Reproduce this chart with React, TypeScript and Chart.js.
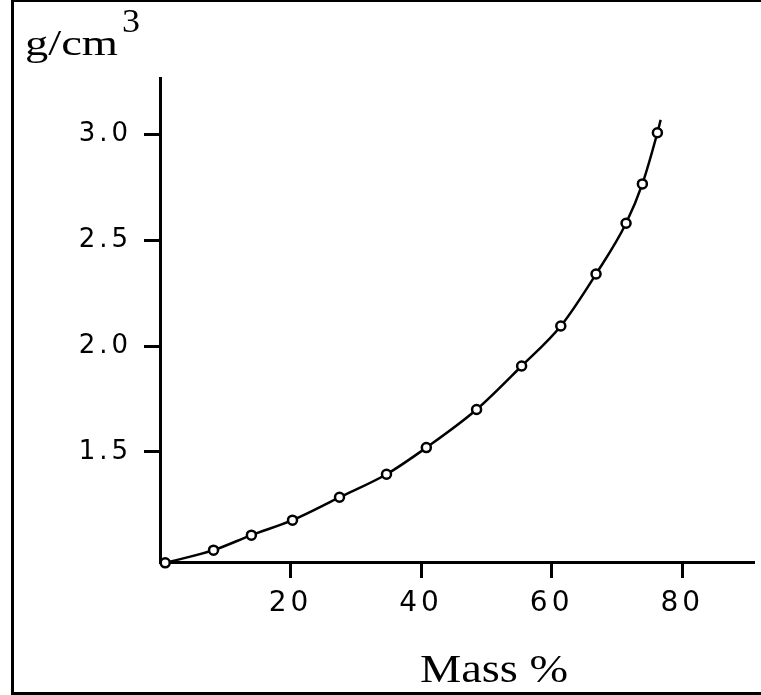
import React, { useEffect, useRef } from "react";
import { Chart, registerables } from "chart.js";

Chart.register(...registerables);

// ---- data ----
const massPercent = [0.8, 8.2, 14.0, 20.3, 27.5, 34.7, 40.8, 48.5, 55.4, 61.4, 66.8, 71.4, 73.9, 76.2];
const density = [0.975, 1.035, 1.106, 1.177, 1.285, 1.394, 1.52, 1.7, 1.906, 2.095, 2.341, 2.581, 2.767, 3.009];
const curveEndMass = 76.7;
const curveEndDensity = 3.07;
const xTicks = [20, 40, 60, 80];
const yTicks = [1.5, 2.0, 2.5, 3.0];
const xTitle = "Mass %";
const yUnit = "g/cm";
const yUnitExp = "3";

function drawStretched(ctx: CanvasRenderingContext2D, text: string, x: number, baseline: number, font: string, targetWidth: number) {
  ctx.save();
  ctx.font = font;
  ctx.textAlign = "left";
  ctx.textBaseline = "alphabetic";
  const w = ctx.measureText(text).width;
  const sx = targetWidth / w;
  ctx.translate(x, baseline);
  ctx.scale(sx, 1);
  ctx.fillStyle = "#000";
  ctx.fillText(text, 0, 0);
  ctx.restore();
}

const decorPlugin = {
  id: "decor",
  beforeDraw(chart: any) {
    const ctx = chart.ctx as CanvasRenderingContext2D;
    ctx.save();
    ctx.fillStyle = "#fff";
    ctx.fillRect(0, 0, chart.width, chart.height);
    ctx.restore();
    (ctx as any).letterSpacing = "4px";
  },
  beforeDatasetsDraw(chart: any) {
    (chart.ctx as any).letterSpacing = "0px";
  },
  afterDraw(chart: any) {
    const ctx = chart.ctx as CanvasRenderingContext2D;
    (ctx as any).letterSpacing = "0px";
    ctx.save();
    ctx.strokeStyle = "#000";
    ctx.lineWidth = 3;
    ctx.beginPath();
    ctx.moveTo(12.5, 0);
    ctx.lineTo(12.5, 695);
    ctx.stroke();
    ctx.beginPath();
    ctx.moveTo(11, 693.5);
    ctx.lineTo(761, 693.5);
    ctx.stroke();
    ctx.lineWidth = 2;
    ctx.beginPath();
    ctx.moveTo(11, 1);
    ctx.lineTo(761, 1);
    ctx.stroke();
    ctx.restore();

    drawStretched(ctx, yUnit, 25, 55, '35px "Liberation Serif"', 93);
    drawStretched(ctx, yUnitExp, 122, 32, '33px "Liberation Serif"', 18);
    drawStretched(ctx, xTitle, 420, 682, '39px "Liberation Serif"', 148);
  },
};

export default function App() {
  const canvasRef = useRef<HTMLCanvasElement | null>(null);

  useEffect(() => {
    const canvas = canvasRef.current;
    if (!canvas) return;

    const pointData = massPercent.map((x, i) => ({ x, y: density[i] }));
    const curveData = pointData.concat([{ x: curveEndMass, y: curveEndDensity }]);

    const chart = new Chart(canvas, {
      type: "scatter",
      data: {
        datasets: [
          {
            label: "measured",
            data: pointData,
            showLine: false,
            pointRadius: 4.5,
            pointBorderWidth: 2.5,
            pointBorderColor: "#000",
            pointBackgroundColor: "#fff",
            clip: false,
          } as any,
          {
            label: "curve",
            data: curveData,
            showLine: true,
            borderColor: "#000",
            borderWidth: 2.5,
            pointRadius: 0,
            cubicInterpolationMode: "monotone",
            clip: false,
          } as any,
        ],
      },
      options: {
        animation: false,
        responsive: false,
        maintainAspectRatio: false,
        layout: { padding: { top: 78, right: 6, left: 0, bottom: 0 } },
        plugins: {
          legend: { display: false },
          tooltip: { enabled: false },
          title: { display: false },
        },
        scales: {
          x: {
            type: "linear",
            min: 0,
            max: 91,
            afterFit: (s: any) => {
              s.height = 133;
            },
            afterBuildTicks: (s: any) => {
              s.ticks = xTicks.map((v) => ({ value: v }));
            },
            border: { display: true, color: "#000", width: 3 },
            grid: {
              drawOnChartArea: false,
              drawTicks: true,
              tickLength: 16,
              tickWidth: 3,
              tickColor: "#000",
            },
            ticks: {
              color: "#000",
              font: { family: "DejaVu Sans", size: 28 },
              padding: 9,
              maxRotation: 0,
              autoSkip: false,
              callback: (v: any) => String(v),
            },
          },
          y: {
            type: "linear",
            min: 0.979,
            max: 3.268,
            afterFit: (s: any) => {
              s.width = 160;
            },
            afterBuildTicks: (s: any) => {
              s.ticks = yTicks.map((v) => ({ value: v }));
            },
            border: { display: true, color: "#000", width: 3 },
            grid: {
              drawOnChartArea: false,
              drawTicks: true,
              tickLength: 16,
              tickWidth: 3,
              tickColor: "#000",
            },
            ticks: {
              color: "#000",
              font: { family: "DejaVu Sans", size: 26 },
              padding: 12,
              autoSkip: false,
              callback: (v: any) => Number(v).toFixed(1),
            },
          },
        },
      },
      plugins: [decorPlugin],
    } as any);

    return () => chart.destroy();
  }, []);

  return (
    <div style={{ position: "absolute", left: 0, top: 0, width: 761, height: 695, background: "#fff" }}>
      <canvas ref={canvasRef} width={761} height={695} style={{ display: "block", width: 761, height: 695 }} />
    </div>
  );
}
